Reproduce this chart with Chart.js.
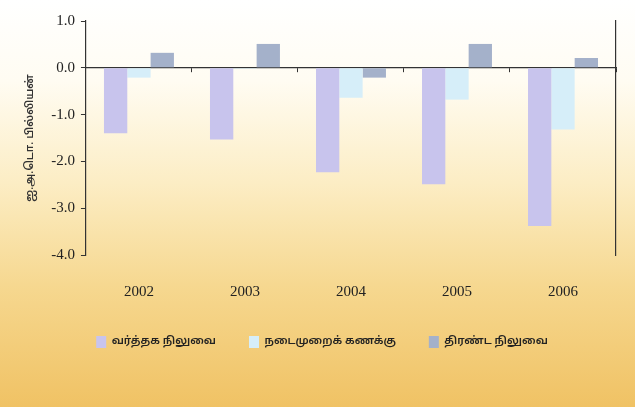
<!DOCTYPE html>
<html>
<head>
<meta charset="utf-8">
<script src="https://cdn.jsdelivr.net/npm/chart.js@4"></script>
<style>
    html, body {
        margin: 0;
        padding: 0;
    }
    body {
        width: 635px;
        height: 407px;
        background: linear-gradient(to bottom, #ffffff 0%, #fffcf2 20%, #fcedc4 45%, #f6d890 70%, #f0c264 100%);
    }
</style>
</head>
<body>
<canvas id="balanceChart" width="635" height="407"></canvas>
<script>
// Years on the x axis
const years = ['2002', '2003', '2004', '2005', '2006'];

// Series values (US$ billion)
const tradeBalance = [-1.40, -1.53, -2.23, -2.49, -3.38];
const currentAccount = [-0.21, -0.02, -0.64, -0.68, -1.32];
const overallBalance = [0.32, 0.51, -0.21, 0.51, 0.21];

// Series names
const seriesNames = ['வர்த்தக நிலுவை', 'நடைமுறைக் கணக்கு', 'திரண்ட நிலுவை'];

// Y axis range
const yMin = -4;
const yMax = 1;
const yStep = 1;

const yTitle = 'ஐ.அ.டொ. பில்லியன்';

const tamilFont = "'Noto Sans Tamil', 'Lohit Tamil', 'Noto Sans', 'DejaVu Sans', sans-serif";
const serifFont = "'Liberation Serif', 'DejaVu Serif', serif";

const ctx = document.getElementById('balanceChart').getContext('2d');
const chart = new Chart(ctx, {
    type: 'bar',
    data: {
        labels: years,
        datasets: [{
            label: seriesNames[0],
            data: tradeBalance,
            backgroundColor: '#c8c4ed',
            borderWidth: 0
        }, {
            label: seriesNames[1],
            data: currentAccount,
            backgroundColor: '#d6eef9',
            borderWidth: 0
        }, {
            label: seriesNames[2],
            data: overallBalance,
            backgroundColor: '#a4b1ca',
            borderWidth: 0
        }]
    },
    options: {
        responsive: false,
        animation: false,
        maintainAspectRatio: false,
        layout: {
            padding: { left: 20, right: 11, top: 21, bottom: 49 }
        },
        datasets: {
            bar: {
                categoryPercentage: 0.66,
                barPercentage: 1.0
            }
        },
        plugins: {
            legend: {
                position: 'bottom',
                align: 'center',
                labels: {
                    boxWidth: 10,
                    boxHeight: 12,
                    padding: 33,
                    color: '#222',
                    font: { family: tamilFont, size: 11, weight: '600' }
                }
            },
            tooltip: { enabled: false }
        },
        scales: {
            x: {
                position: 'bottom',
                // ticks are hidden, tickLength only sets the label gap
                grid: { display: false, tickLength: 26 },
                border: { display: false },
                ticks: {
                    color: '#222',
                    padding: 2,
                    font: { family: serifFont, size: 15 }
                }
            },
            x2: {
                position: { y: 0 },
                labels: years,
                grid: {
                    offset: true,
                    drawOnChartArea: false,
                    tickLength: 4,
                    color: '#333'
                },
                border: { display: true, color: '#333', width: 1.2 },
                ticks: { display: false }
            },
            y: {
                min: yMin,
                max: yMax,
                grid: {
                    drawOnChartArea: false,
                    tickLength: 5,
                    color: '#333'
                },
                border: { display: true, color: '#333', width: 1.2 },
                ticks: {
                    stepSize: yStep,
                    color: '#222',
                    padding: 6,
                    font: { family: serifFont, size: 15 },
                    callback: function (v) { return v.toFixed(1); }
                },
                title: {
                    display: true,
                    text: yTitle,
                    color: '#333',
                    padding: { bottom: 8 },
                    font: { family: tamilFont, size: 11, weight: '600' }
                }
            },
            y2: {
                position: 'right',
                min: yMin,
                max: yMax,
                grid: { display: false },
                border: { display: true, color: '#333', width: 1.2 },
                ticks: { display: false }
            }
        }
    }
});
</script>
</body>
</html>
